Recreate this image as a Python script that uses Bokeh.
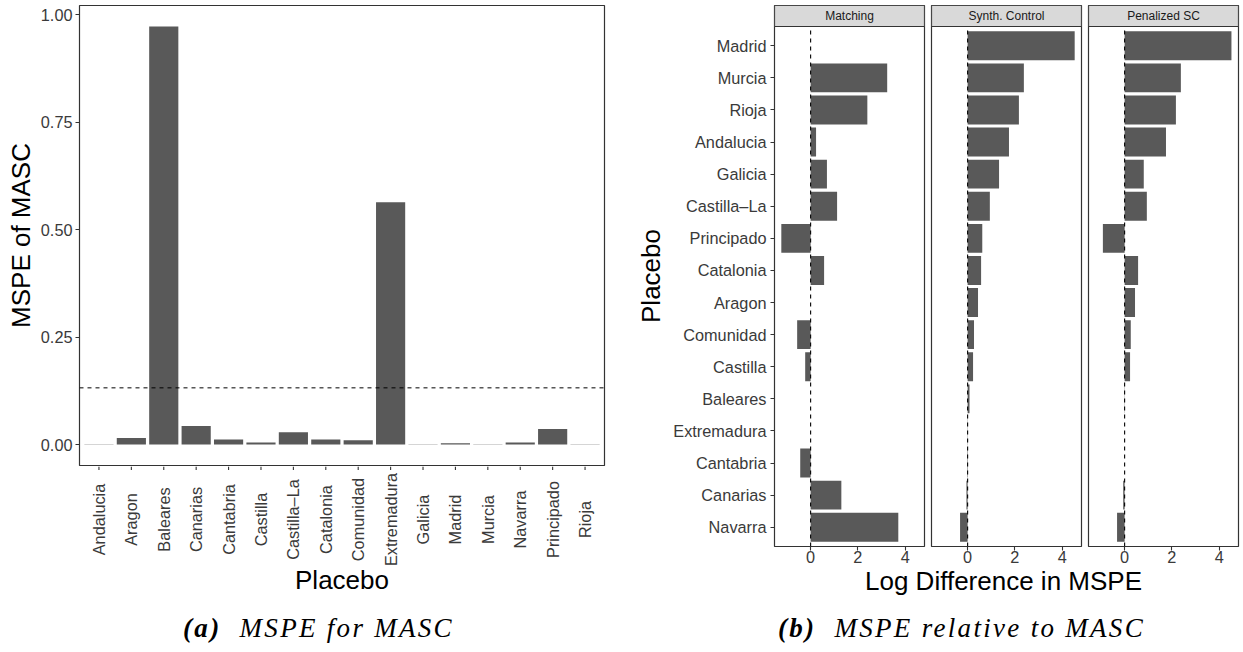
from bokeh.plotting import figure
from bokeh.models import (Range1d, FixedTicker, Span, Label, Div, PrintfTickFormatter)
from bokeh.layouts import row, column
from bokeh.embed import file_html
from bokeh.resources import INLINE
from bokeh.core.properties import value

# ---- (a) MSPE of MASC by placebo region ----
placebo_a = ["Andalucia", "Aragon", "Baleares", "Canarias", "Cantabria",
             "Castilla", "Castilla–La", "Catalonia", "Comunidad", "Extremadura",
             "Galicia", "Madrid", "Murcia", "Navarra", "Principado", "Rioja"]
mspe_masc = [0.001, 0.0155, 0.973, 0.043, 0.012, 0.005, 0.029, 0.012,
             0.010, 0.564, 0.001, 0.003, 0.001, 0.005, 0.036, 0.001]
mspe_cutoff = 0.132
a_ticks = [0.0, 0.25, 0.50, 0.75, 1.00]

# ---- (b) log difference in MSPE relative to MASC ----
placebo_b = ["Madrid", "Murcia", "Rioja", "Andalucia", "Galicia", "Castilla–La",
             "Principado", "Catalonia", "Aragon", "Comunidad", "Castilla",
             "Baleares", "Extremadura", "Cantabria", "Canarias", "Navarra"]
facet_names = ["Matching", "Synth. Control", "Penalized SC"]
log_diff_matching = [0.0, 3.24, 2.40, 0.23, 0.69, 1.12, -1.24, 0.57,
                     0.0, -0.57, -0.23, 0.0, 0.0, -0.44, 1.30, 3.71]
log_diff_synth = [4.53, 2.38, 2.17, 1.75, 1.33, 0.94, 0.62, 0.57,
                  0.44, 0.27, 0.23, 0.08, 0.01, -0.02, -0.05, -0.32]
log_diff_penalized = [4.52, 2.38, 2.17, 1.75, 0.81, 0.94, -0.92, 0.57,
                      0.44, 0.26, 0.23, 0.01, 0.0, 0.0, -0.06, -0.32]
b_ticks = [0, 2, 4]
ref_line = 0

SANS = "Liberation Sans"
BAR = "#595959"
INK = "#333333"
TICK_TXT = "#3a3a3a"
TICK_PX = "16.3px"
TITLE_PX = "26px"


def style_axes(p):
    for ax in p.axis:
        ax.axis_line_color = None
        ax.major_tick_line_color = INK
        ax.major_tick_line_width = 1.1
        ax.major_tick_out = 4
        ax.major_tick_in = 0
        ax.minor_tick_line_color = None
        ax.major_label_text_font = SANS
        ax.major_label_text_font_size = TICK_PX
        ax.major_label_text_color = TICK_TXT
        ax.axis_label_text_font = SANS
        ax.axis_label_text_font_size = TITLE_PX
        ax.axis_label_text_font_style = "normal"
        ax.axis_label_text_color = "black"
    p.grid.visible = False
    p.background_fill_color = "white"
    p.border_fill_color = "white"


# ---------------- panel (a) ----------------
n_a = len(placebo_a)
xa = list(range(1, n_a + 1))
top_a = max(mspe_masc)
pa = figure(width=630, height=466, output_backend="svg", toolbar_location=None,
            x_range=Range1d(0.4, n_a + 0.6),
            y_range=Range1d(-0.05 * top_a, 1.05 * top_a),
            x_axis_location=None,
            min_border_left=79, min_border_right=26,
            min_border_top=5, min_border_bottom=1)
pa.vbar(x=xa, top=mspe_masc, bottom=0, width=0.9, fill_color=BAR, line_color=None)
pa.add_layout(Span(location=mspe_cutoff, dimension="width", line_dash="4 4",
                   line_color="black", line_width=1))
style_axes(pa)
pa.outline_line_color = INK
pa.outline_line_width = 1.2
pa.yaxis.ticker = FixedTicker(ticks=a_ticks)
pa.yaxis.formatter = PrintfTickFormatter(format="%.2f")
pa.yaxis.major_label_standoff = 3
pa.yaxis.axis_label = "MSPE of MASC"
pa.yaxis.axis_label_standoff = 2

# category strip under panel (a): tick marks, rotated names and axis title
strip_h = 134
pl = figure(width=630, height=strip_h, output_backend="svg", toolbar_location=None,
            x_range=pa.x_range, y_range=Range1d(0, strip_h),
            x_axis_location=None, y_axis_location=None,
            min_border_left=79, min_border_right=26,
            min_border_top=0, min_border_bottom=0)
pl.grid.visible = False
pl.outline_line_color = None
pl.segment(x0=xa, y0=[strip_h] * n_a, x1=xa, y1=[strip_h - 3.5] * n_a,
           line_color=INK, line_width=1.1)
pl.text(x=xa, y=[81] * n_a, text=placebo_a, angle=1.5707963,
        text_align="center", text_baseline="middle",
        text_font=value(SANS), text_font_size=value(TICK_PX), text_color=TICK_TXT)
pl.text(x=[(n_a + 1) / 2], y=[21], text=["Placebo"],
        text_align="center", text_baseline="middle",
        text_font=value(SANS), text_font_size=value(TITLE_PX), text_color="black")

# ---------------- panel (b) facets ----------------
n_b = len(placebo_b)
yb = [n_b - i for i in range(n_b)]
all_vals = log_diff_matching + log_diff_synth + log_diff_penalized
lo, hi = min(all_vals), max(all_vals)
pad = 0.05 * (hi - lo)
x_lo, x_hi = lo - pad, hi + pad
panel_top = n_b + 0.6
strip_units = (n_b + 0.2) * 21 / 520
y_hi = panel_top + strip_units


def facet(name, vals, width, b_left, b_right, first):
    p = figure(width=width, height=572, output_backend="svg", toolbar_location=None,
               x_range=Range1d(x_lo, x_hi), y_range=Range1d(0.4, y_hi),
               min_border_left=b_left, min_border_right=b_right,
               min_border_top=5, min_border_bottom=26,
               y_axis_location="left" if first else None)
    p.hbar(y=yb, left=0, right=vals, height=0.9, fill_color=BAR, line_color=None)
    p.segment(x0=[ref_line], y0=[0.4], x1=[ref_line], y1=[panel_top],
              line_dash="4 4", line_color="black", line_width=1.1)
    # facet strip
    p.quad(left=[x_lo], right=[x_hi], bottom=[panel_top], top=[y_hi],
           fill_color="#d9d9d9", line_color=INK, line_width=1.2)
    p.add_layout(Label(x=(x_lo + x_hi) / 2, y=(panel_top + y_hi) / 2, text=name,
                       text_align="center", text_baseline="middle",
                       text_font=SANS, text_font_size="12px", text_color="#1a1a1a"))
    style_axes(p)
    p.outline_line_color = INK
    p.outline_line_width = 1.2
    p.xaxis.ticker = FixedTicker(ticks=b_ticks)
    p.xaxis.major_label_standoff = 0
    if first:
        p.yaxis.ticker = FixedTicker(ticks=yb)
        p.yaxis.major_label_overrides = {y: n for y, n in zip(yb, placebo_b)}
        p.yaxis.major_label_standoff = 4
        p.yaxis.axis_label = "Placebo"
        p.yaxis.axis_label_standoff = 4
    return p


f1 = facet(facet_names[0], log_diff_matching, 297, 144, 3, True)
f2 = facet(facet_names[1], log_diff_synth, 157, 4, 3, False)
f3 = facet(facet_names[2], log_diff_penalized, 159, 4, 5, False)

x_title = Div(text=('<div style="box-sizing:border-box;font-family:\'Liberation Sans\';'
                    'font-size:26px;line-height:18px;padding-left:134px;width:613px;'
                    'text-align:center;color:black;white-space:nowrap;">'
                    'Log Difference in MSPE</div>'),
              width=613, height=28, margin=0)


def caption(tag, text, width, pad_left):
    html = ('<div style="box-sizing:border-box;font-family:\'Liberation Serif\';'
            'font-style:italic;font-size:27px;line-height:27px;letter-spacing:2.3px;'
            f'padding-top:15px;padding-left:{pad_left}px;width:{width}px;'
            'text-align:center;color:black;white-space:pre;">'
            f'<b>({tag})</b>  {text}</div>')
    return Div(text=html, width=width, height=52, margin=0)


cap_a = caption("a", "MSPE for MASC", 630, 7)
cap_b = caption("b", "MSPE relative to MASC", 613, 50)

left_block = column(pa, pl)
right_block = column(row(f1, f2, f3), x_title)
layout = column(row(left_block, right_block), row(cap_a, cap_b))

open("out.html", "w").write(file_html(layout, INLINE))
